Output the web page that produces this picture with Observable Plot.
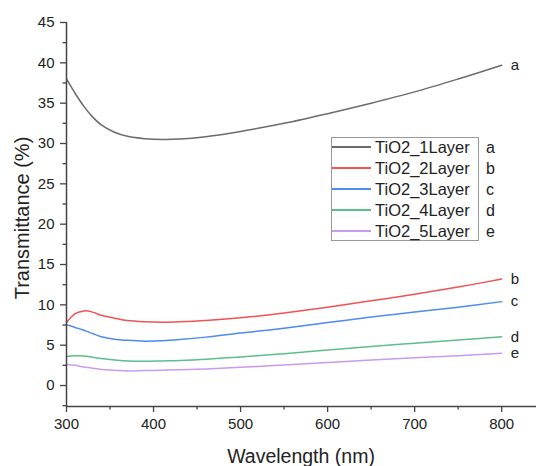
<!DOCTYPE html>
<html><head><meta charset="utf-8">
<script src="https://cdn.jsdelivr.net/npm/d3@7"></script>
<script src="https://cdn.jsdelivr.net/npm/@observablehq/plot@0.6"></script>
<style>
body{margin:0;background:#fff;font-family:"Liberation Sans",Arial,sans-serif;}
#wrap{position:relative;width:538px;height:466px;overflow:hidden;}
.t{position:absolute;color:#222;white-space:nowrap;}
#legend{position:absolute;left:331px;top:137px;width:146px;height:102px;border:1px solid #999;background:#fff;}
.row{position:absolute;left:0;height:21px;}
.sw{position:absolute;left:0;width:39px;top:9px;height:2px;}
.lt{position:absolute;left:43px;top:0;font-size:16.5px;line-height:21px;color:#222;}
.ll{position:absolute;left:154px;top:0;font-size:16px;line-height:21px;color:#222;}
</style></head><body><div id="wrap"></div>
<script>
const wavelength = [300,310,320,330,340,355,370,390,410,430,460,500,550,600,650,700,750,800];
const series = ["TiO2_1Layer","TiO2_2Layer","TiO2_3Layer","TiO2_4Layer","TiO2_5Layer"];
const tags = ["a","b","c","d","e"];
const colors = ["#6b6b6b","#f25252","#4a8cf0","#5cbf88","#c79cf0"];
const layer1 = [38.0,36.2,34.6,33.3,32.3,31.4,30.9,30.6,30.5,30.55,30.85,31.5,32.5,33.7,35.0,36.4,38.0,39.7];
const layer2 = [7.8,8.9,9.25,9.1,8.7,8.35,8.05,7.9,7.85,7.9,8.05,8.4,9.0,9.7,10.5,11.3,12.2,13.2];
const layer3 = [7.55,7.2,6.85,6.45,6.05,5.75,5.6,5.5,5.55,5.7,6.0,6.5,7.1,7.8,8.5,9.1,9.7,10.4];
const layer4 = [3.6,3.7,3.65,3.5,3.35,3.15,3.05,3.0,3.05,3.1,3.25,3.55,3.95,4.4,4.85,5.25,5.65,6.05];
const layer5 = [2.65,2.5,2.3,2.15,2.0,1.9,1.8,1.85,1.9,1.95,2.05,2.25,2.55,2.85,3.15,3.45,3.7,4.0];
const xTicks = [300,400,500,600,700,800];
const xMinor = [350,450,550,650,750];
const yTicks = [0,5,10,15,20,25,30,35,40,45];
const yMinor = [-2.5,2.5,7.5,12.5,17.5,22.5,27.5,32.5,37.5,42.5];
const xTitle = "Wavelength (nm)";
const yTitle = "Transmittance (%)";

const all = [layer1,layer2,layer3,layer4,layer5];
const rows = [];
all.forEach((vals,i)=>vals.forEach((v,j)=>rows.push({s:series[i],x:wavelength[j],y:v})));
const ends = all.map((vals,i)=>({tag:tags[i],x:wavelength[wavelength.length-1],y:vals[vals.length-1]}));

const axisColor = "#444";
const chart = Plot.plot({
  width:538, height:466,
  marginLeft:66, marginRight:2, marginTop:22, marginBottom:60,
  style:{fontFamily:'"Liberation Sans",Arial,sans-serif', color:"#222", background:"#fff"},
  x:{domain:[300,840]},
  y:{domain:[-2.6,45]},
  color:{domain:series, range:colors},
  marks:[
    Plot.line(rows,{x:"x",y:"y",stroke:"s",strokeWidth:1.5,curve:"catmull-rom"}),
    Plot.text(ends,{x:"x",y:"y",text:"tag",dx:9,textAnchor:"start",fontSize:15,fill:"#222"}),
    Plot.ruleX([300],{stroke:axisColor,strokeWidth:1.5}),
    Plot.ruleY([-2.6],{stroke:axisColor,strokeWidth:1.5}),
    Plot.axisX({ticks:xTicks,tickSize:6,tickPadding:6,fontSize:15,label:null,stroke:axisColor,strokeWidth:1.3}),
    Plot.axisX({ticks:xMinor,tickSize:3.5,text:null,label:null,stroke:axisColor,strokeWidth:1.3}),
    Plot.axisY({ticks:yTicks,tickSize:6,tickPadding:6,fontSize:15,label:null,stroke:axisColor,strokeWidth:1.3}),
    Plot.axisY({ticks:yMinor,tickSize:3.5,text:null,label:null,stroke:axisColor,strokeWidth:1.3})
  ]
});
const wrap = document.getElementById("wrap");
wrap.appendChild(chart);

const xt = document.createElement("div");
xt.className="t"; xt.textContent=xTitle;
xt.style.cssText+="font-size:19.5px;left:301px;top:456px;transform:translate(-50%,-50%);";
wrap.appendChild(xt);
const yt = document.createElement("div");
yt.className="t"; yt.textContent=yTitle;
yt.style.cssText+="font-size:20px;left:22px;top:218px;transform:translate(-50%,-50%) rotate(-90deg);";
wrap.appendChild(yt);

const lg = document.createElement("div"); lg.id="legend";
series.forEach((s,i)=>{
  const r=document.createElement("div"); r.className="row"; r.style.top=(i*21-1)+"px"; r.style.width="180px";
  const sw=document.createElement("div"); sw.className="sw"; sw.style.background=colors[i];
  const lt=document.createElement("div"); lt.className="lt"; lt.textContent=s;
  const ll=document.createElement("div"); ll.className="ll"; ll.textContent=tags[i];
  r.appendChild(sw); r.appendChild(lt); r.appendChild(ll); lg.appendChild(r);
});
wrap.appendChild(lg);
</script></body></html>
